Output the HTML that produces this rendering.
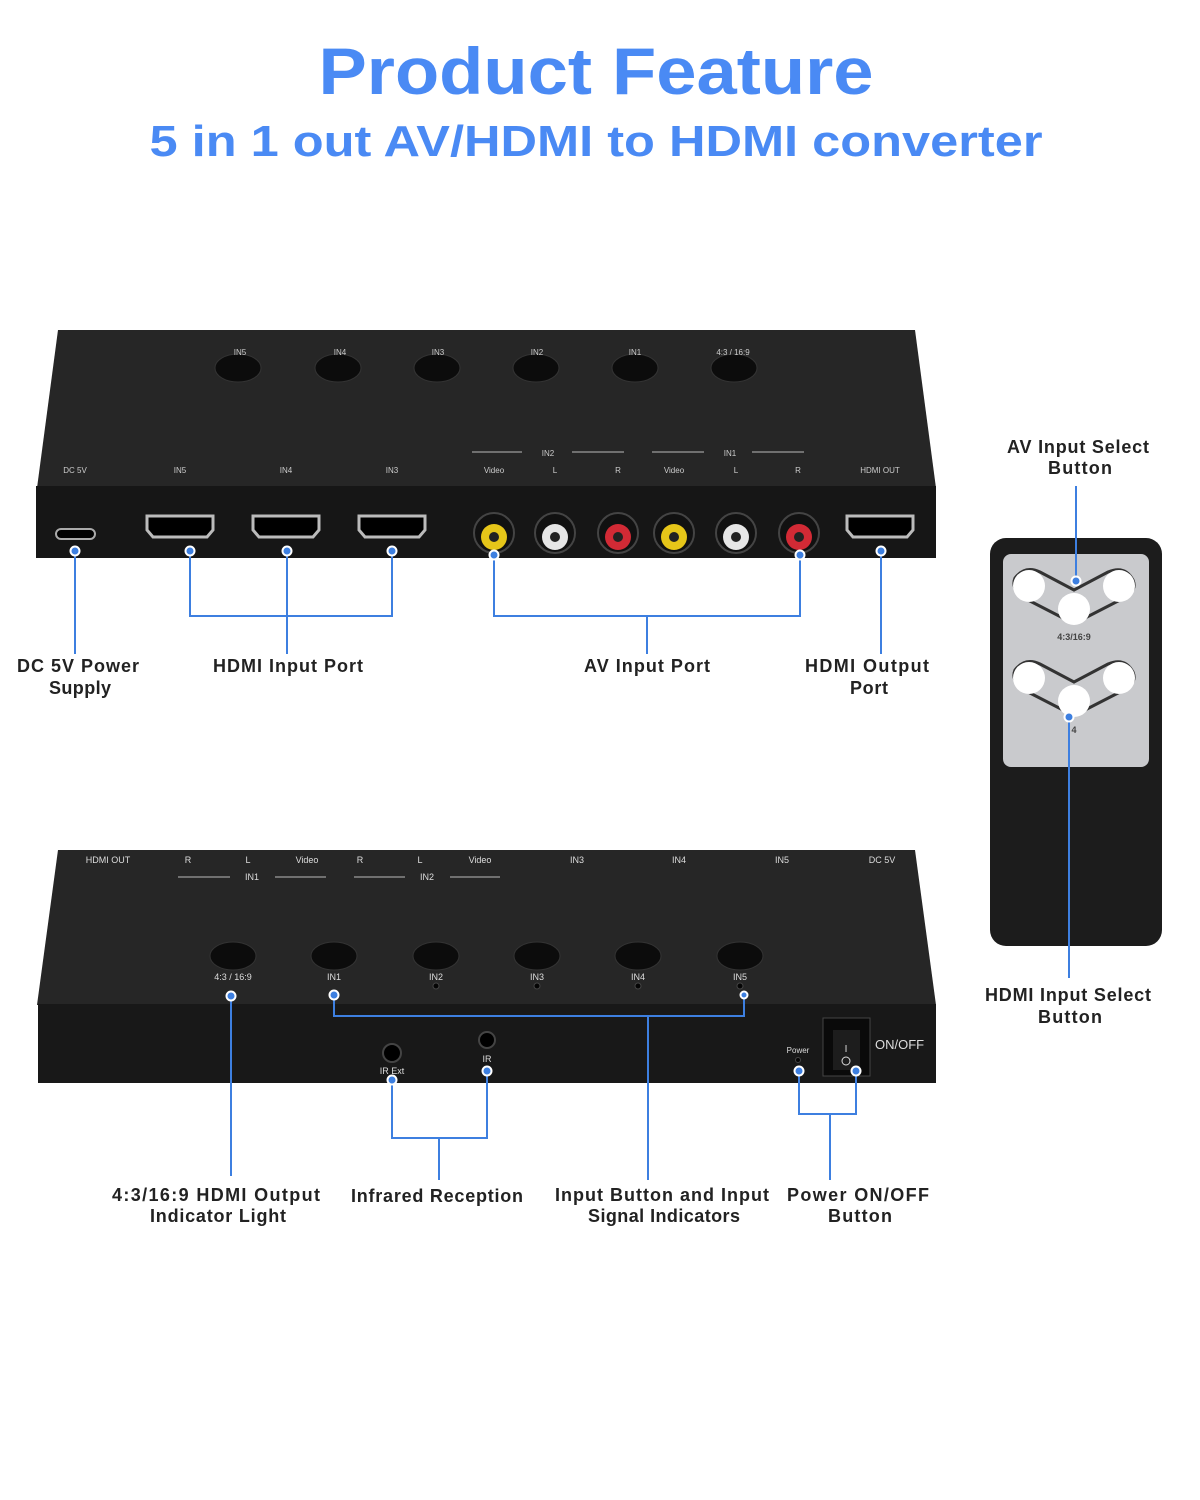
<!DOCTYPE html>
<html><head><meta charset="utf-8"><style>
html,body{margin:0;padding:0;background:#fff;}
svg{display:block}
</style></head><body>
<svg width="1200" height="1500" viewBox="0 0 1200 1500" xmlns="http://www.w3.org/2000/svg" font-family="Liberation Sans, DejaVu Sans, sans-serif">
<text x="596" y="94" text-anchor="middle" font-size="66" font-weight="bold" fill="#4a8af4" textLength="555" lengthAdjust="spacingAndGlyphs">Product Feature</text>
<text x="596" y="156" text-anchor="middle" font-size="44" font-weight="bold" fill="#4a8af4" textLength="893" lengthAdjust="spacingAndGlyphs">5 in 1 out AV/HDMI to HDMI converter</text>

<!-- top device -->
<polygon points="58,330 915,330 936,488 37,488" fill="#262626"/>
<rect x="36" y="486" width="900" height="72" fill="#161616"/>
<g fill="#0c0c0c" stroke="#333" stroke-width="1">
<ellipse cx="238" cy="368" rx="23" ry="14"/><ellipse cx="338" cy="368" rx="23" ry="14"/><ellipse cx="437" cy="368" rx="23" ry="14"/><ellipse cx="536" cy="368" rx="23" ry="14"/><ellipse cx="635" cy="368" rx="23" ry="14"/><ellipse cx="734" cy="368" rx="23" ry="14"/>
</g>
<g fill="#ccc" font-size="8" text-anchor="middle">
<text x="240" y="355">IN5</text><text x="340" y="355">IN4</text><text x="438" y="355">IN3</text><text x="537" y="355">IN2</text><text x="635" y="355">IN1</text><text x="733" y="355">4:3 / 16:9</text>
<text x="75" y="473">DC 5V</text><text x="180" y="473">IN5</text><text x="286" y="473">IN4</text><text x="392" y="473">IN3</text><text x="494" y="473">Video</text><text x="555" y="473">L</text><text x="618" y="473">R</text><text x="674" y="473">Video</text><text x="736" y="473">L</text><text x="798" y="473">R</text><text x="880" y="473">HDMI OUT</text>
<text x="548" y="456">IN2</text><text x="730" y="456">IN1</text>
</g>
<g stroke="#bbb" stroke-width="1"><line x1="472" y1="452" x2="522" y2="452"/><line x1="572" y1="452" x2="624" y2="452"/><line x1="652" y1="452" x2="704" y2="452"/><line x1="752" y1="452" x2="804" y2="452"/></g>
<rect x="56" y="529" width="39" height="10" rx="5" fill="#000" stroke="#aaa" stroke-width="2"/>
<g fill="#000" stroke="#bbb" stroke-width="3">
<path d="M147,516 h66 v14 l-6,7 h-54 l-6,-7z"/><path d="M253,516 h66 v14 l-6,7 h-54 l-6,-7z"/><path d="M359,516 h66 v14 l-6,7 h-54 l-6,-7z"/><path d="M847,516 h66 v14 l-6,7 h-54 l-6,-7z"/>
</g>
<g>
<circle cx="494" cy="533" r="20" fill="#111" stroke="#444" stroke-width="2"/><circle cx="494" cy="537" r="13" fill="#e6c619"/><circle cx="494" cy="537" r="5" fill="#222"/>
<circle cx="555" cy="533" r="20" fill="#111" stroke="#444" stroke-width="2"/><circle cx="555" cy="537" r="13" fill="#e6e6e6"/><circle cx="555" cy="537" r="5" fill="#222"/>
<circle cx="618" cy="533" r="20" fill="#111" stroke="#444" stroke-width="2"/><circle cx="618" cy="537" r="13" fill="#d22a35"/><circle cx="618" cy="537" r="5" fill="#222"/>
<circle cx="674" cy="533" r="20" fill="#111" stroke="#444" stroke-width="2"/><circle cx="674" cy="537" r="13" fill="#e6c619"/><circle cx="674" cy="537" r="5" fill="#222"/>
<circle cx="736" cy="533" r="20" fill="#111" stroke="#444" stroke-width="2"/><circle cx="736" cy="537" r="13" fill="#e6e6e6"/><circle cx="736" cy="537" r="5" fill="#222"/>
<circle cx="799" cy="533" r="20" fill="#111" stroke="#444" stroke-width="2"/><circle cx="799" cy="537" r="13" fill="#d22a35"/><circle cx="799" cy="537" r="5" fill="#222"/>
</g>

<!-- remote -->
<rect x="990" y="538" width="172" height="408" rx="16" fill="#1c1c1c"/>
<rect x="1003" y="554" width="146" height="213" rx="8" fill="#c9cacd"/>
<g fill="none" stroke="#333" stroke-width="3">
<path d="M1015,578 Q1025,565 1040,572 L1074,590 L1108,572 Q1125,565 1133,580 Q1138,592 1120,600 L1085,618 Q1074,624 1063,618 L1028,600 Q1010,590 1015,578z"/>
<path d="M1015,670 Q1025,657 1040,664 L1074,682 L1108,664 Q1125,657 1133,672 Q1138,684 1120,692 L1085,710 Q1074,716 1063,710 L1028,692 Q1010,682 1015,670z"/>
</g>
<g fill="#fff"><circle cx="1029" cy="586" r="16"/><circle cx="1119" cy="586" r="16"/><circle cx="1074" cy="609" r="16"/><circle cx="1029" cy="678" r="16"/><circle cx="1119" cy="678" r="16"/><circle cx="1074" cy="701" r="16"/></g>
<text x="1074" y="640" text-anchor="middle" font-size="9" font-weight="bold" fill="#444">4:3/16:9</text>
<text x="1074" y="733" text-anchor="middle" font-size="9" font-weight="bold" fill="#444">4</text>

<!-- bottom device -->
<polygon points="58,850 915,850 936,1005 37,1005" fill="#262626"/>
<rect x="38" y="1004" width="898" height="79" fill="#181818"/>
<g fill="#ddd" font-size="9" text-anchor="middle">
<text x="108" y="863">HDMI OUT</text><text x="188" y="863">R</text><text x="248" y="863">L</text><text x="307" y="863">Video</text><text x="360" y="863">R</text><text x="420" y="863">L</text><text x="480" y="863">Video</text><text x="577" y="863">IN3</text><text x="679" y="863">IN4</text><text x="782" y="863">IN5</text><text x="882" y="863">DC 5V</text>
<text x="252" y="880">IN1</text><text x="427" y="880">IN2</text>
<text x="233" y="980">4:3 / 16:9</text><text x="334" y="980">IN1</text><text x="436" y="980">IN2</text><text x="537" y="980">IN3</text><text x="638" y="980">IN4</text><text x="740" y="980">IN5</text>
<text x="392" y="1074">IR Ext</text><text x="487" y="1062">IR</text><text x="798" y="1053" font-size="8">Power</text>
</g>
<text x="875" y="1049" font-size="13" fill="#ddd">ON/OFF</text>
<g stroke="#bbb" stroke-width="1"><line x1="178" y1="877" x2="230" y2="877"/><line x1="275" y1="877" x2="326" y2="877"/><line x1="354" y1="877" x2="405" y2="877"/><line x1="450" y1="877" x2="500" y2="877"/></g>
<g fill="#0c0c0c" stroke="#333"><ellipse cx="233" cy="956" rx="23" ry="14"/><ellipse cx="334" cy="956" rx="23" ry="14"/><ellipse cx="436" cy="956" rx="23" ry="14"/><ellipse cx="537" cy="956" rx="23" ry="14"/><ellipse cx="638" cy="956" rx="23" ry="14"/><ellipse cx="740" cy="956" rx="23" ry="14"/></g>
<g fill="#050505" stroke="#444"><circle cx="436" cy="986" r="3"/><circle cx="537" cy="986" r="3"/><circle cx="638" cy="986" r="3"/><circle cx="740" cy="986" r="3"/><circle cx="798" cy="1060" r="2.5"/></g>
<circle cx="392" cy="1053" r="9" fill="#000" stroke="#444" stroke-width="2"/>
<circle cx="487" cy="1040" r="8" fill="#000" stroke="#444" stroke-width="2"/>
<rect x="823" y="1018" width="47" height="58" fill="#0a0a0a" stroke="#444"/>
<rect x="833" y="1030" width="27" height="40" fill="#1d1d1d"/>
<text x="846" y="1052" text-anchor="middle" font-size="10" fill="#ddd">I</text><circle cx="846" cy="1061" r="4" fill="none" stroke="#ddd"/>

<g stroke="#3d7fe0" stroke-width="2" fill="none">
<line x1="75" y1="552" x2="75" y2="654"/>
<polyline points="190,552 190,616 392,616 392,552"/><line x1="287" y1="552" x2="287" y2="654"/>
<polyline points="494,555 494,616 800,616 800,555"/><line x1="647" y1="616" x2="647" y2="654"/>
<line x1="881" y1="552" x2="881" y2="654"/>
<line x1="1076" y1="486" x2="1076" y2="580"/><line x1="1069" y1="718" x2="1069" y2="978"/>
<line x1="231" y1="996" x2="231" y2="1176"/>
<polyline points="334,995 334,1016 744,1016 744,995"/><line x1="648" y1="1016" x2="648" y2="1180"/>
<polyline points="392,1080 392,1138 487,1138 487,1072"/><line x1="439" y1="1138" x2="439" y2="1180"/>
<polyline points="799,1072 799,1114 856,1114 856,1072"/><line x1="830" y1="1114" x2="830" y2="1180"/>
</g>

<!-- dots -->
<g fill="#3d7fe0" stroke="#fff" stroke-width="2">
<circle cx="75" cy="551" r="4.5"/><circle cx="190" cy="551" r="4.5"/><circle cx="287" cy="551" r="4.5"/><circle cx="392" cy="551" r="4.5"/><circle cx="494" cy="555" r="4.5"/><circle cx="800" cy="555" r="4.5"/><circle cx="881" cy="551" r="4.5"/>
<circle cx="1076" cy="581" r="4.5"/><circle cx="1069" cy="717" r="4.5"/>
<circle cx="231" cy="996" r="4.5"/><circle cx="334" cy="995" r="4.5"/><circle cx="744" cy="995" r="3.5"/><circle cx="392" cy="1080" r="4.5"/><circle cx="487" cy="1071" r="4.5"/><circle cx="799" cy="1071" r="4.5"/><circle cx="856" cy="1071" r="4.5"/>
</g>

<g font-size="18" font-weight="bold" fill="#222" text-anchor="middle" lengthAdjust="spacingAndGlyphs">
<text x="78" y="672" textLength="122">DC 5V Power</text><text x="80" y="694" textLength="62">Supply</text>
<text x="288" y="672" textLength="150">HDMI Input Port</text>
<text x="647" y="672" textLength="126">AV Input Port</text>
<text x="867" y="672" textLength="124">HDMI Output</text><text x="869" y="694" textLength="38">Port</text>
<text x="1078" y="453" textLength="142">AV Input Select</text><text x="1080" y="474" textLength="64">Button</text>
<text x="1068" y="1001" textLength="166">HDMI Input Select</text><text x="1070" y="1023" textLength="64">Button</text>
<text x="216" y="1201" textLength="208">4:3/16:9 HDMI Output</text><text x="218" y="1222" textLength="136">Indicator Light</text>
<text x="437" y="1202" textLength="172">Infrared Reception</text>
<text x="662" y="1201" textLength="214">Input Button and Input</text><text x="664" y="1222" textLength="152">Signal Indicators</text>
<text x="858" y="1201" textLength="142">Power ON/OFF</text><text x="860" y="1222" textLength="64">Button</text>
</g>
</svg>
</body></html>
